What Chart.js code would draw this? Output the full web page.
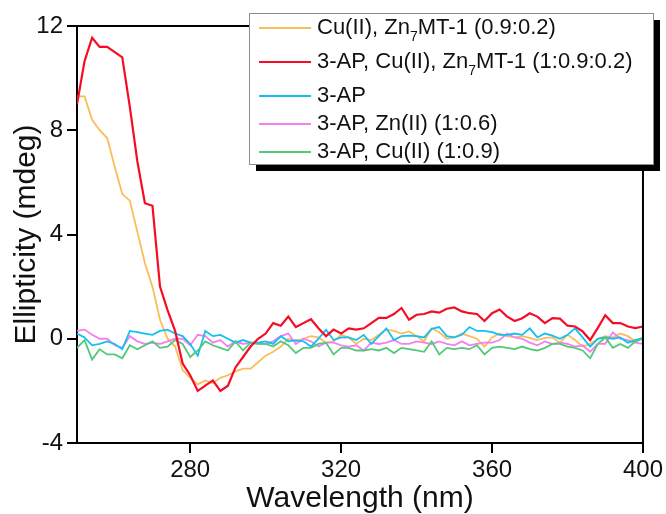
<!DOCTYPE html>
<html lang="en">
<head>
<meta charset="UTF-8">
<title>CD spectra — 3-AP, Cu(II), Zn7MT-1</title>
<script src="https://cdn.jsdelivr.net/npm/chart.js@4.4.7/dist/chart.umd.min.js"></script>
<style>
*{margin:0;padding:0;box-sizing:border-box}
body{background:#fff;width:666px;height:514px;overflow:hidden}
#wrap{position:relative;width:666px;height:514px}
</style>
</head>
<body>
<div id="wrap"><canvas id="cd"></canvas></div>
<script>
// wavelength (nm), 2 nm steps
const wavelengths = [250,252,254,256,258,260,262,264,266,268,270,272,274,276,278,280,282,284,286,288,
  290,292,294,296,298,300,302,304,306,308,310,312,314,316,318,320,322,324,326,328,
  330,332,334,336,338,340,342,344,346,348,350,352,354,356,358,360,362,364,366,368,
  370,372,374,376,378,380,382,384,386,388,390,392,394,396,398,400];

// ellipticity (mdeg)
const cuZnMT = [9.3,9.3,8.4,8.0,7.7,6.6,5.55,5.3,4.1,2.9,
  2.0,0.73,0.0,-0.3,-1.2,-1.5,-1.75,-1.6,-1.7,-1.5,
  -1.4,-1.25,-1.15,-1.15,-0.9,-0.65,-0.5,-0.3,0.0,-0.1,
  0.0,0.1,0.05,-0.15,-0.1,0.15,0.05,-0.2,0.0,-0.05,
  0.15,0.35,0.3,0.2,0.28,0.1,-0.1,0.4,0.25,0.0,
  0.05,0.2,0.1,0.0,-0.3,0.05,0.2,0.1,0.05,0.1,
  0.03,-0.05,0.03,0.05,-0.15,0.15,-0.05,-0.3,-0.2,0.0,
  0.1,0.05,0.2,0.1,-0.1,0.05];
const apCuZnMT = [9.0,10.65,11.55,11.2,11.2,11.0,10.8,8.9,6.8,5.2,
  5.1,2.0,1.1,0.3,-0.95,-1.4,-2.0,-1.8,-1.6,-2.0,
  -1.8,-1.1,-0.7,-0.3,0.0,0.2,0.6,0.5,0.85,0.45,
  0.6,0.75,0.4,0.1,0.35,0.2,0.4,0.35,0.4,0.6,
  0.8,0.8,0.95,1.18,0.73,0.92,0.95,1.05,1.0,1.15,
  1.2,1.05,0.98,0.95,0.68,0.98,1.12,0.85,0.68,0.79,
  0.98,0.85,0.6,0.79,0.77,0.5,0.47,0.28,-0.05,0.41,
  0.9,0.6,0.6,0.47,0.41,0.47];
const ap = [0.2,0.05,-0.25,-0.2,-0.1,-0.2,-0.4,0.3,0.25,0.2,
  0.15,0.3,0.35,0.2,0.1,-0.2,-0.65,0.3,0.1,0.15,
  0.0,-0.15,-0.05,-0.15,-0.15,-0.1,-0.2,0.1,-0.1,-0.05,
  -0.1,-0.3,0.0,0.35,-0.05,0.05,0.05,-0.05,0.15,-0.2,
  0.1,0.4,-0.05,0.1,0.12,0.1,0.05,0.38,0.45,0.1,
  0.05,0.15,0.45,0.3,0.3,0.25,0.15,0.15,0.2,0.15,
  0.4,0.05,0.2,0.12,0.0,0.15,0.4,0.05,-0.3,0.0,
  0.05,0.0,0.05,-0.15,-0.05,0.03];
const apZn = [0.3,0.35,0.15,0.0,0.0,-0.25,-0.35,0.1,-0.1,-0.2,
  -0.15,-0.2,-0.1,0.0,0.0,-0.25,0.15,0.1,-0.15,-0.05,
  -0.3,-0.1,-0.2,-0.15,-0.2,-0.2,-0.1,0.1,0.2,-0.2,
  0.0,-0.1,-0.3,-0.15,-0.15,-0.25,-0.3,-0.25,-0.45,-0.15,
  -0.2,-0.15,-0.05,-0.2,-0.2,-0.1,-0.15,-0.2,-0.1,-0.2,
  -0.25,-0.1,-0.25,-0.2,-0.15,-0.15,-0.05,0.2,0.05,0.0,
  -0.15,-0.25,-0.1,-0.2,-0.15,-0.2,-0.3,-0.25,-0.5,-0.2,
  -0.2,0.25,0.0,-0.05,-0.15,-0.2];
const apCu = [-0.35,-0.05,-0.8,-0.4,-0.6,-0.6,-0.75,-0.25,-0.4,-0.25,
  -0.1,-0.35,-0.3,-0.05,-0.2,-0.7,-0.45,-0.1,-0.25,-0.35,
  -0.45,-0.1,-0.45,-0.15,-0.2,-0.2,-0.3,-0.1,-0.25,-0.55,
  -0.35,-0.35,-0.2,-0.15,-0.6,-0.35,-0.35,-0.45,-0.45,-0.4,
  -0.45,-0.35,-0.55,-0.35,-0.4,-0.45,-0.5,-0.1,-0.6,-0.35,
  -0.4,-0.35,-0.4,-0.25,-0.6,-0.35,-0.3,-0.35,-0.4,-0.3,
  -0.4,-0.45,-0.35,-0.2,-0.2,-0.3,-0.35,-0.45,-0.75,-0.2,
  0.05,-0.35,-0.2,-0.35,-0.1,0.0];

// "_7" marks a subscript in the legend
const seriesNames = ["Cu(II), Zn_7MT-1 (0.9:0.2)", "3-AP, Cu(II), Zn_7MT-1 (1:0.9:0.2)",
  "3-AP", "3-AP, Zn(II) (1:0.6)", "3-AP, Cu(II) (1:0.9)"];
const seriesValues = [cuZnMT, apCuZnMT, ap, apZn, apCu];
const seriesColors = ["#F8BE5A", "#F50D25", "#12BFF5", "#F47FF0", "#53C878"];

const xTicks = [280, 320, 360, 400];
const yTicks = [-4, 0, 4, 8, 12];

const FONT = "Arial, 'Liberation Sans', sans-serif";

const frameAndLegend = {
  id: "frameAndLegend",
  afterDraw(chart) {
    const { ctx, chartArea: a } = chart;
    ctx.save();
    ctx.strokeStyle = "#000";
    ctx.lineWidth = 2;
    ctx.beginPath();
    ctx.moveTo(a.left, a.top);
    ctx.lineTo(a.right, a.top);
    ctx.lineTo(a.right, a.bottom);
    ctx.stroke();

    // legend box with drop shadow
    const bx = 249, by = 13, bw = 404, bh = 151;
    ctx.fillStyle = "#000";
    ctx.fillRect(bx + 7, by + 7, bw, bh);
    ctx.fillStyle = "#fff";
    ctx.fillRect(bx, by, bw, bh);
    ctx.strokeStyle = "#8c8c8c";
    ctx.lineWidth = 1;
    ctx.strokeRect(bx + 0.5, by + 0.5, bw, bh);

    let cy = by + 15;
    seriesNames.forEach((name, i) => {
      ctx.strokeStyle = seriesColors[i];
      ctx.lineWidth = 2;
      ctx.beginPath();
      ctx.moveTo(259, cy);
      ctx.lineTo(311, cy);
      ctx.stroke();

      ctx.fillStyle = "#111";
      ctx.textBaseline = "middle";
      let tx = 317;
      const parts = name.split(/_(\d)/);
      parts.forEach((p, k) => {
        if (k % 2 === 1) {
          ctx.font = "14px " + FONT;
          ctx.fillText(p, tx, cy + 9);
        } else {
          ctx.font = "22px " + FONT;
          ctx.fillText(p, tx, cy);
        }
        tx += ctx.measureText(p).width;
      });
      cy += parts.length > 1 ? 34 : 28;
    });
    ctx.restore();
  }
};

new Chart(document.getElementById("cd"), {
  type: "line",
  data: {
    datasets: seriesValues.map((vals, i) => ({
      label: seriesNames[i],
      data: vals.map((v, k) => ({ x: wavelengths[k], y: v })),
      borderColor: seriesColors[i],
      borderWidth: i === 1 ? 2.2 : 1.8,
      pointRadius: 0,
      tension: 0,
      fill: false,
      order: [4, 0, 2, 3, 1][i]
    }))
  },
  options: {
    responsive: true,
    maintainAspectRatio: false,
    devicePixelRatio: 1,
    animation: false,
    layout: { padding: { top: 26, right: 21, left: 0, bottom: 0 } },
    plugins: { legend: { display: false }, tooltip: { enabled: false } },
    scales: {
      x: {
        type: "linear",
        min: 250, max: 400,
        afterBuildTicks: s => { s.ticks = xTicks.map(v => ({ value: v })); },
        afterFit: s => { s.height = 71; },
        border: { color: "#000", width: 2 },
        grid: { drawOnChartArea: false, drawTicks: true, tickLength: 10, color: "#000", lineWidth: 2 },
        ticks: { color: "#111", font: { family: FONT, size: 24 }, padding: 3, maxRotation: 0 },
        title: { display: true, text: "Wavelength (nm)", color: "#111",
          font: { family: FONT, size: 30, lineHeight: 1 }, padding: { top: 0, bottom: 0 } }
      },
      y: {
        min: -4, max: 12,
        afterBuildTicks: s => { s.ticks = yTicks.map(v => ({ value: v })); },
        afterFit: s => { s.width = 77; },
        border: { color: "#000", width: 2 },
        grid: { drawOnChartArea: false, drawTicks: true, tickLength: 10, color: "#000", lineWidth: 2 },
        ticks: { color: "#111", font: { family: FONT, size: 24 }, padding: 4 },
        title: { display: true, text: "Ellipticity (mdeg)", color: "#111",
          font: { family: FONT, size: 30, lineHeight: 1 }, padding: { top: 12, bottom: 0 } }
      }
    }
  },
  plugins: [frameAndLegend]
});
</script>
</body>
</html>
